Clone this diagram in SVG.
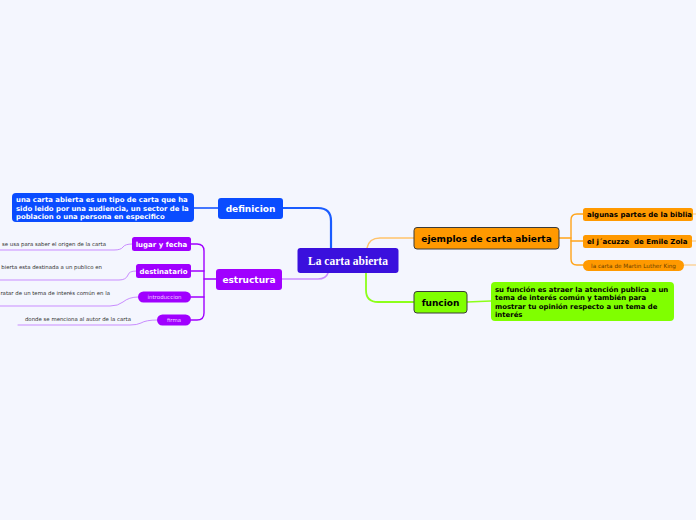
<svg xmlns="http://www.w3.org/2000/svg" width="696" height="520" viewBox="0 0 696 520">
<style>
.n{font-family:"DejaVu Sans",Verdana,sans-serif;font-weight:bold;}
.w{fill:#fff;}
.k{fill:#000;}
.leaf{font-family:"DejaVu Sans",Verdana,sans-serif;font-size:5.4px;fill:#333;}
.c{fill:none;stroke-linecap:round;stroke-linejoin:round;}
</style>
<rect width="696" height="520" fill="#f4f6fe"/>
<g id="connectors">
  <path class="c" d="M331,248 L331,221 Q331,208 318,208 L283,208" stroke="#1a5cff" stroke-width="2.2"/>
  <path class="c" d="M328,273 Q326,279 318,279 L282,279" stroke="#c98cff" stroke-width="1.6"/>
  <path class="c" d="M367,248 Q369,238 380,238 L414,238" stroke="#ffc36b" stroke-width="1.4"/>
  <path class="c" d="M366,273 L366,290 Q366,302 378,302 L414,302" stroke="#8cff1a" stroke-width="1.8"/>
  <path class="c" d="M218,208 L194,208" stroke="#0a4cff" stroke-width="1.4"/>
  <path class="c" d="M467,302 L491,301" stroke="#8cff1a" stroke-width="1.4"/>
  <g stroke="#a000ff" stroke-width="1.4" class="c">
    <path d="M216,279 L204,279"/>
    <path d="M191,244 L197,244 Q204,244 204,251 L204,313 Q204,320 197,320 L191,320"/>
    <path d="M191,271 L204,271"/>
    <path d="M191,297 L204,297"/>
  </g>
  <g stroke="#c98cff" stroke-width="1" class="c">
    <path d="M132,244 Q125,244 123,247 Q121,250 114,250 L0,250"/>
    <path d="M136,271 Q129,271 128,275 Q126,280 119,280 L0,280"/>
    <path d="M138,297 Q129,297 123,302 Q118,306 110,306 L0,306"/>
    <path d="M157,320 Q146,320 141,323 Q137,325 130,325 L18,325"/>
  </g>
  <g stroke="#ffa41a" stroke-width="1.4" class="c">
    <path d="M559,238 L571,238"/>
    <path d="M583,214 L577,214 Q571,214 571,220 L571,259 Q571,265 577,265 L583,265"/>
    <path d="M583,241 L571,241"/>
  </g>
  <g stroke="#ffc36b" stroke-width="1" class="c">
    <path d="M692,214 L696,214"/>
    <path d="M692,241 L696,241"/>
    <path d="M684,265 L696,265"/>
  </g>
</g>
<g id="central">
  <rect x="297.5" y="248" width="101" height="25" rx="3" fill="#3a10dd"/>
  <text x="348" y="264.5" text-anchor="middle" font-family="Liberation Serif, serif" font-weight="bold" font-size="11.5" fill="#fff">La carta abierta</text>
</g>
<g id="definicion">
  <rect x="218" y="198" width="65" height="21" rx="3" fill="#0a4cff"/>
  <text class="n w" x="250.5" y="211.5" text-anchor="middle" font-size="9">definicion</text>
</g>
<g id="definicion-texto">
  <rect x="12" y="193" width="182" height="29" rx="4" fill="#0a4cff"/>
  <text class="n w" font-size="6.9">
    <tspan x="16" y="201.5">una carta abierta es un tipo de carta que ha</tspan>
    <tspan x="16" y="210.5">sido leido por una audiencia, un sector de la</tspan>
    <tspan x="16" y="219">poblacion o una persona en especifico</tspan>
  </text>
</g>
<g id="estructura">
  <rect x="216" y="269" width="66" height="21" rx="3" fill="#a000ff"/>
  <text class="n w" x="249" y="282.5" text-anchor="middle" font-size="9">estructura</text>
</g>
<g id="lugar-y-fecha">
  <rect x="132" y="237" width="59" height="14" rx="2.5" fill="#a000ff"/>
  <text class="n w" x="161.5" y="246.5" text-anchor="middle" font-size="7">lugar y fecha</text>
</g>
<g id="destinatario">
  <rect x="136" y="264" width="55" height="14" rx="2.5" fill="#a000ff"/>
  <text class="n w" x="163.5" y="273.5" text-anchor="middle" font-size="7">destinatario</text>
</g>
<g id="introduccion">
  <rect x="138" y="291.5" width="53" height="11" rx="5.5" fill="#a000ff"/>
  <text x="164.5" y="299" text-anchor="middle" font-family="DejaVu Sans, sans-serif" font-size="5.5" fill="#ecd2ff">introduccion</text>
</g>
<g id="firma">
  <rect x="157" y="314.5" width="34" height="11" rx="5.5" fill="#a000ff"/>
  <text x="174" y="322" text-anchor="middle" font-family="DejaVu Sans, sans-serif" font-size="5.4" fill="#ecd2ff">firma</text>
</g>
<g id="leaf-lugar">
  <text class="leaf" x="106" y="246" text-anchor="end">se usa para saber el origen de la carta</text>
</g>
<g id="leaf-destinatario">
  <text class="leaf" x="102" y="269" text-anchor="end">bierta esta destinada a un publico en</text>
</g>
<g id="leaf-introduccion">
  <text class="leaf" x="110" y="295" text-anchor="end">ratar de un tema de interés común en la</text>
</g>
<g id="leaf-firma">
  <text class="leaf" x="131" y="321" text-anchor="end">donde se menciona al autor de la carta</text>
</g>
<g id="ejemplos">
  <rect x="414" y="227.5" width="145" height="21.5" rx="3" fill="#ff9900" stroke="#3a3a3a" stroke-width="1"/>
  <text class="n k" x="486.5" y="241.5" text-anchor="middle" font-size="9">ejemplos de carta abierta</text>
</g>
<g id="biblia">
  <rect x="583" y="208" width="110" height="13" rx="2.5" fill="#ff9900"/>
  <text class="n k" x="587" y="217" font-size="7">algunas partes de la biblia</text>
</g>
<g id="zola">
  <rect x="583" y="235" width="109" height="13" rx="2.5" fill="#ff9900"/>
  <text class="n k" x="587" y="244.3" font-size="7" style="white-space:pre">el j´acuzze  de Emile Zola</text>
</g>
<g id="king">
  <rect x="583" y="260" width="101" height="11" rx="5.5" fill="#ff9900"/>
  <text x="633.5" y="267.7" text-anchor="middle" font-family="DejaVu Sans, sans-serif" font-size="5.7" fill="#6b3f00">la carta de Martin Luther King</text>
</g>
<g id="funcion">
  <rect x="414" y="291.5" width="53" height="21.5" rx="3" fill="#80ff00" stroke="#3a3a3a" stroke-width="1"/>
  <text class="n k" x="440.5" y="305.5" text-anchor="middle" font-size="9">funcion</text>
</g>
<g id="funcion-texto">
  <rect x="491" y="282" width="183" height="39" rx="4" fill="#80ff00"/>
  <text class="n k" font-size="6.9">
    <tspan x="495" y="291.5">su función es atraer la atención publica a un</tspan>
    <tspan x="495" y="300">tema de interés común y también para</tspan>
    <tspan x="495" y="308.5">mostrar tu opinión respecto a un tema de</tspan>
    <tspan x="495" y="317">interés</tspan>
  </text>
</g>
</svg>
